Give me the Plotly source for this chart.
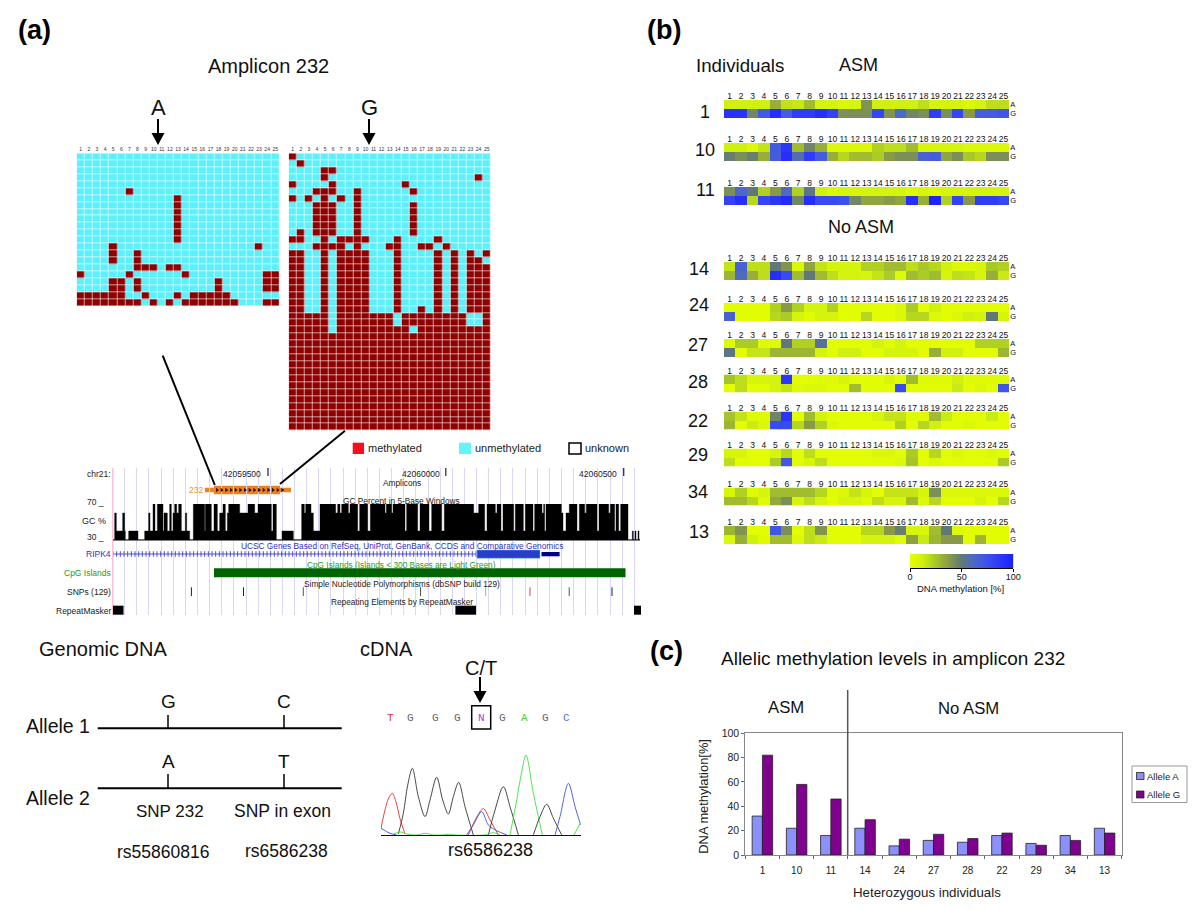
import plotly.graph_objects as go

W, H = 1200, 909
FONT = "Liberation Sans"

# ---------- panel (a): clone methylation grids (methylated CpG numbers per clone row)
cpg_labels = [str(i) for i in range(1, 26)]
clones_a = [[], [], [], [], [], [7], [13], [13], [13], [13], [13], [13], [13], [5, 23], [5, 8], [5, 8],
            [8, 9, 10, 12, 13], [1, 7, 14, 24, 25], [5, 6, 8, 18, 24, 25], [5, 6, 8, 18, 24, 25],
            [1, 2, 3, 4, 5, 6, 9, 13, 15, 16, 17, 18, 19],
            [1, 2, 3, 4, 5, 6, 7, 8, 10, 12, 14, 15, 16, 17, 18, 19, 20, 24, 25]]
_w = [1, 2, 5, 7, 8, 9, 10, 14, 19, 21, 23, 24, 25]
_all = list(range(1, 26))
clones_g = [[1], [2], [5, 6], [5, 24], [1, 6, 15], [4, 5, 6, 9, 16], [1, 3, 5, 7, 9],
            [4, 5, 6, 9, 16], [4, 5, 6, 9, 16], [4, 5, 6, 9, 16], [4, 5, 6, 9, 16],
            [2, 4, 5, 6, 9, 16], [1, 2, 5, 7, 8, 9, 10, 14, 19],
            [4, 5, 6, 7, 9, 13, 14, 17, 18, 20],
            [1, 2, 5, 7, 8, 9, 10, 14, 19, 21, 23, 25], [1, 2, 5, 7, 8, 9, 10, 14, 19, 21, 23, 24],
            _w, _w, _w, _w, _w, _w, _w + [17],
            [c for c in _all if c not in (6, 14, 23, 24)], [c for c in _all if c not in (6, 14, 23, 24)],
            [c for c in _all if c not in (6, 16)]] + [_all] * 14

# ---------- panel (b): allelic methylation per CpG
individuals = ["1", "10", "11", "14", "24", "27", "28", "22", "29", "34", "13"]
ind_1 = [[12,12,12,12,32,17,15,28,10,10,6,8,40,12,12,12,12,18,10,10,10,6,10,18,18],
         [90,90,45,70,92,68,85,85,92,82,42,42,42,80,40,62,45,42,85,42,80,38,68,68,72]]
ind_10 = [[12,12,6,16,70,88,28,45,32,6,6,6,6,22,18,18,28,8,8,8,8,6,6,6,6],
          [48,42,48,32,68,92,58,85,68,32,20,28,28,24,38,42,42,65,68,35,42,25,20,42,42]]
ind_11 = [[42,62,50,22,38,60,22,52,12,6,8,8,10,10,10,10,4,8,4,8,10,10,10,10,10],
          [82,92,20,80,88,95,45,92,78,78,75,45,35,35,38,35,92,32,98,22,82,38,85,85,80]]
ind_14 = [[16,65,18,18,50,40,6,35,16,10,10,10,22,22,28,28,18,25,20,12,6,6,8,25,22],
          [30,60,32,18,92,78,28,50,28,18,10,10,8,16,24,4,28,24,28,8,18,16,8,32,14]]
ind_24 = [[2,2,2,2,22,38,22,10,10,22,2,2,2,2,2,6,24,2,12,2,2,2,2,2,2],
          [65,2,2,2,20,24,10,3,10,10,2,2,20,2,2,6,20,20,6,2,6,12,10,50,8]]
ind_27 = [[4,24,24,4,4,50,22,22,55,2,2,2,2,10,2,10,2,2,2,2,2,2,22,22,22],
          [52,2,16,16,30,30,30,30,10,2,12,12,2,2,10,10,10,2,32,12,12,2,2,2,30]]
ind_28 = [[26,18,8,8,10,88,2,2,4,4,8,2,2,2,8,2,28,4,4,4,12,4,4,4,4],
          [2,18,2,2,10,16,4,6,6,2,2,28,2,2,2,78,2,2,2,2,14,2,6,2,72]]
ind_22 = [[26,16,4,4,45,90,2,28,10,2,2,2,2,8,16,16,4,4,28,14,2,2,2,14,2],
          [30,2,14,6,78,78,20,38,22,6,2,2,2,2,2,22,2,20,12,2,2,6,2,2,2]]
ind_29 = [[8,8,2,2,8,20,2,18,2,2,2,2,2,6,6,2,24,2,20,2,6,2,2,6,2],
          [18,2,2,2,24,70,2,8,18,2,2,2,2,2,2,6,26,2,6,2,2,2,2,2,24]]
ind_34 = [[8,22,4,8,28,28,28,28,20,4,6,16,8,2,16,16,16,8,42,6,6,6,6,6,6],
          [28,28,20,4,34,42,8,18,10,2,8,8,4,18,8,8,28,6,20,2,2,2,10,2,20]]
ind_13 = [[30,40,2,2,72,42,2,18,40,2,2,2,20,20,38,48,8,8,28,50,6,2,2,2,2],
          [6,32,12,4,28,28,6,18,14,2,2,2,10,10,10,2,36,14,30,38,38,2,30,2,2]]
strip_values = [ind_1, ind_10, ind_11, ind_14, ind_24, ind_27, ind_28, ind_22, ind_29, ind_34, ind_13]
strip_tops = [100, 143, 187, 262, 303, 339, 374.5, 411.5, 448.5, 487.5, 526]
label_x = [705, 705, 705, 699, 699, 698, 698, 698, 698, 698, 699]
label_y = [112, 150, 190, 269, 305, 345, 382, 421, 455, 492, 532]
strip_cols = [[0, "#e6ff00"], [0.12, "#d0f010"], [0.25, "#a8c828"], [0.38, "#889a48"], [0.5, "#607878"],
              [0.62, "#4c68c8"], [0.75, "#3c50f0"], [1, "#1c20ff"]]
scale_steps = list(range(0, 101))

# ---------- panel (c)
bar_individuals = ["1", "10", "11", "14", "24", "27", "28", "22", "29", "34", "13"]
allele_a = [32, 22, 16, 22, 7.5, 12, 10.5, 16, 9.5, 16, 22]
allele_g = [82, 58, 46, 29, 13, 17, 13.5, 18, 8, 12, 18]

# ---------- GC percent track: (window position, level)
B, L, M, T = 30, 40, 60, 70
gc_part1 = [(15,B),(20,M),(25,L),(44,M),(50,L),(52,B),(62,L),(90,B),(110,L),(122,M),(126,L),(135,T),(141,L),
            (148,T),(165,L),(168,M),(178,L),(185,T),(190,L),(195,M),(200,T),(206,M),(212,T),(220,L),(232,M),
            (236,L),(245,B),(256,T),(290,L),(292,T),(310,L),(318,T),(328,L),(335,M),(345,T),(352,L),(358,M),
            (362,T),(395,M),(420,T),(440,M),(450,T),(490,L),(495,T),(505,B),(522,L)]
gc_part2 = [(0,L),(25,B),(50,T),(58,M),(62,T),(78,M),(85,L),(105,T),(152,M),(158,T),(165,M),(170,T),(190,M),
            (195,T),(218,L),(224,T),(248,L),(256,T),(300,M),(304,T),(320,M),(324,T),(360,L),(365,T),(398,L),
            (405,T),(432,L),(440,T),(470,L),(478,T)]
gc_part3 = [(0,T),(35,M),(50,T),(68,L),(75,T),(100,M),(105,T),(117,L),(123,T),(155,L),(160,T),(184,L),(190,T),
            (213,L),(218,T),(240,M),(245,T),(248,L),(252,T),(298,M),(303,L),(312,M),(322,T),(345,L),(352,T),
            (368,M),(373,T),(405,L),(411,T),(440,M),(445,T),(458,L),(462,T),(470,L),(476,T),(498,B),(511,L),
            (514,B),(519,L),(522,B),(528,L),(531,B),(534,B)]
gc_pos = [p for p, _ in gc_part1] + [p + 531 for p, _ in gc_part2] + [p + 1062 for p, _ in gc_part3]
gc_level = [v for _, v in gc_part1] + [v for _, v in gc_part2] + [v for _, v in gc_part3]

# ---------- chromatogram traces (scan, signal)
chrom = [
    ("#e03030", [33,45,56,67,78,90,105], [21,76,112,126,100,50,4]),
    ("#333333", [85,100,113,127,145,165,180,200,218,235,250,266,285,310],
                [4,66,150,201,116,56,106,174,106,64,116,159,86,1]),
    ("#e03030", [295,318,340,360,385], [1,51,80,46,1]),
    ("#4050e0", [290,310,335,355,380,410], [1,31,71,31,14,1]),
    ("#333333", [355,375,400,420,445], [1,76,146,86,1]),
    ("#40e040", [420,440,455,468,490,517], [1,106,190,241,126,1]),
    ("#333333", [490,510,530,550,575], [1,56,93,51,1]),
    ("#4050e0", [555,570,595,615,632], [1,56,156,86,31]),
    ("#40e040", [612,632], [1,39]),
    ("#40e040", [70,92,110,140,165,190,215,235,255,345,370,390], [4,10,4,1,6,1,1,3,1,1,8,1]),
    ("#4050e0", [33,60,80], [21,6,1]),
]
seq_letters = ["T", "G", "G", "G", "N", "G", "A", "G", "C"]
seq_colors = ["#e03030", "#666666", "#666666", "#666666", "#a040e0", "#666666", "#40d040", "#666666", "#6070e0"]
seq_x = [390, 410.7, 435.3, 457.7, 481.3, 502.7, 524.3, 545.7, 566]


def dom_x(a, b):
    return [a / W, b / W]


def dom_y(top, bottom):
    return [1 - bottom / H, 1 - top / H]


fig = go.Figure()
layout = dict(
    width=W, height=H, margin=dict(l=0, r=0, t=0, b=0, pad=0, autoexpand=False), autosize=False,
    paper_bgcolor="white", plot_bgcolor="rgba(0,0,0,0)", font=dict(family=FONT, color="#111111"),
    showlegend=False,
    xaxis=dict(domain=[0, 1], range=[0, W], visible=False, fixedrange=True),
    yaxis=dict(domain=[0, 1], range=[H, 0], visible=False, fixedrange=True),
)
shapes, notes = [], []


def text(x, y, s, size=12, anchor="center", color="#111111", bold=False, family=FONT, angle=0):
    shift = {"left": -2, "right": 2, "center": 0}[anchor]
    notes.append(dict(x=x + shift, y=y, xref="x", yref="y", text=f"<b>{s}</b>" if bold else s, showarrow=False,
                      xanchor=anchor, yanchor="middle", textangle=angle,
                      font=dict(size=size, color=color, family=family)))


def rect(x0, y0, x1, y1, fill, edge=None, w=0, layer="above"):
    shapes.append(dict(type="rect", xref="x", yref="y", x0=x0, y0=y0, x1=x1, y1=y1, fillcolor=fill,
                       line=dict(color=edge or fill, width=w), layer=layer))


def seg(x0, y0, x1, y1, color="black", w=1.5):
    shapes.append(dict(type="line", xref="x", yref="y", x0=x0, y0=y0, x1=x1, y1=y1,
                       line=dict(color=color, width=w), layer="above"))


def arrow(x, y0, y1):
    seg(x, y0, x, y1 - 10, w=2)
    shapes.append(dict(type="path", xref="x", yref="y", layer="above", fillcolor="black", line=dict(width=0),
                       path=f"M {x-6.5} {y1-12} L {x+6.5} {y1-12} L {x} {y1} Z"))


# page-level trace so the page axes exist
fig.add_trace(go.Scatter(x=[0], y=[0], mode="markers", marker=dict(size=1, opacity=0), showlegend=False,
                         hoverinfo="skip"))

axis_n = 2


def new_axes(xd, yd, xopts, yopts):
    global axis_n
    n = axis_n
    axis_n += 1
    layout[f"xaxis{n}"] = dict(domain=xd, anchor=f"y{n}", fixedrange=True, **xopts)
    layout[f"yaxis{n}"] = dict(domain=yd, anchor=f"x{n}", fixedrange=True, **yopts)
    return f"x{n}", f"y{n}"


# ---------- methylation grids
def grid(clones, left, right, top, bottom):
    z = [[1 if c + 1 in row else 0 for c in range(25)] for row in clones]
    xa, ya = new_axes(
        dom_x(left, right), dom_y(top, bottom),
        dict(side="top", tickmode="array", tickvals=list(range(25)), ticktext=cpg_labels, range=[-0.5, 24.5],
             tickangle=0, ticks="", showgrid=False, zeroline=False, tickfont=dict(size=5, color="#333")),
        dict(visible=False, range=[len(clones) - 0.5, -0.5]))
    fig.add_trace(go.Heatmap(z=z, xaxis=xa, yaxis=ya, zmin=0, zmax=1, xgap=0.6, ygap=0.6, showscale=False,
                             colorscale=[[0, "#5cf0fc"], [0.5, "#5cf0fc"], [0.5, "#8f0000"], [1, "#8f0000"]],
                             hoverinfo="skip"))


grid(clones_a, 76.7, 279.3, 153.3, 306)
grid(clones_g, 288.7, 490.7, 153.3, 430.7)

# ---------- strips of panel (b)
for vals, top in zip(strip_values, strip_tops):
    xa, ya = new_axes(
        dom_x(724, 1009.3), dom_y(top, top + 18),
        dict(side="top", tickmode="array", tickvals=list(range(25)), ticktext=cpg_labels, range=[-0.5, 24.5],
             tickangle=0, ticks="", showgrid=False, zeroline=False, ticklabelstandoff=-2,
             tickfont=dict(size=8.5, color="#111")),
        dict(side="right", tickmode="array", tickvals=[0, 1], ticktext=["A", "G"], range=[1.5, -0.5],
             ticks="", showgrid=False, zeroline=False, tickfont=dict(size=7.5, color="#111")))
    fig.add_trace(go.Heatmap(z=vals, xaxis=xa, yaxis=ya, coloraxis="coloraxis", hoverinfo="skip"))
layout["coloraxis"] = dict(cmin=0, cmax=100, colorscale=strip_cols, showscale=False)

# colour key of panel (b), drawn through the same colour axis
xa_k, ya_k = new_axes(
    dom_x(910, 1013.3), dom_y(554, 568.3),
    dict(range=[0, 100], tickvals=[0, 50, 100], ticks="outside", ticklen=3, tickcolor="black", showline=True,
         linecolor="black", linewidth=1, showgrid=False, zeroline=False, tickfont=dict(size=9, color="#111"),
         ticklabelstandoff=-3),
    dict(visible=False, range=[0, 1]))
fig.add_trace(go.Heatmap(x=scale_steps, y=[0, 1], z=[scale_steps, scale_steps], xaxis=xa_k, yaxis=ya_k,
                         coloraxis="coloraxis", hoverinfo="skip"))
text(960, 588.5, "DNA methylation [%]", 9.5)

for name, x, y in zip(individuals, label_x, label_y):
    text(x, y, name, size=18)

# ---------- browser tracks
xa_t, ya_t = new_axes(
    dom_x(113, 640), dom_y(468, 615),
    dict(range=[15, 1596], showgrid=True, gridcolor="#d8d8f4", gridwidth=1, tick0=50, dtick=36.4, showticklabels=False,
         ticks="", zeroline=False, showline=False),
    dict(range=[615, 468], visible=False))
n_gc = axis_n
axis_n += 1
layout[f"yaxis{n_gc}"] = dict(domain=dom_y(504, 540), range=[30, 70], visible=False, anchor=xa_t, fixedrange=True)
fig.add_trace(go.Scatter(x=gc_pos, y=gc_level, xaxis=xa_t, yaxis=f"y{n_gc}", mode="lines", fill="tozeroy",
                         fillcolor="black", line=dict(color="black", width=0.4, shape="hv"), showlegend=False,
                         hoverinfo="skip"))
gene_ticks = list(range(15, 1107, 11))
fig.add_trace(go.Scatter(x=gene_ticks, y=[554] * len(gene_ticks), xaxis=xa_t, yaxis=ya_t, mode="lines+markers",
                         line=dict(color="#5050d0", width=1),
                         marker=dict(symbol="line-ns", size=4, line=dict(color="#5050d0", width=1)),
                         showlegend=False, hoverinfo="skip"))

rect(112, 468, 113.5, 615, "#ffc0d8")
rect(205, 487.7, 291, 492.3, "#f08020", layer="below")
rect(214, 485.7, 280, 494.3, "#f08020", layer="below")
amplicon_marks = list(range(327, 525, 14))
fig.add_trace(go.Scatter(x=amplicon_marks, y=[490] * len(amplicon_marks), xaxis=xa_t, yaxis=ya_t, mode="markers",
                         marker=dict(symbol="triangle-right", size=4, color="#301800", line=dict(width=0)),
                         showlegend=False, hoverinfo="skip"))
rect(477, 550, 540, 558.3, "#2a3cc8", "#60d0f0", 0.5)
rect(541.5, 552, 559.6, 556.3, "#000090")
rect(214, 568.3, 625.5, 577.3, "#006400")
seg(113, 540, 640, 540, "black", 1)
for x, c in zip([191.4, 243.5, 303.3, 420.5, 485.6, 530, 569.2, 612],
                ["#222", "#222", "#555", "#555", "#70e040", "#e04040", "#555", "#222"]):
    seg(x, 587.3, x, 596, c, 1)
rect(113, 605.7, 123.5, 614.7, "black")
rect(455.4, 605.7, 476, 614.7, "black")
rect(634, 605.7, 641, 614.7, "black")
for x in (268, 445.8, 623.7):
    seg(x, 468, x, 476, "#333", 1.3)

bt = "#222222"
text(111, 473.5, "chr21:", 8.5, "right", bt)
text(242, 473.5, "42059500", 8.5, color=bt)
text(421, 473.5, "42060000", 8.5, color=bt)
text(598, 473.5, "42060500", 8.5, color=bt)
text(401.7, 482.5, "Amplicons", 8.3, color=bt)
text(202.5, 490, "232", 8.5, "right", "#f09030")
text(104, 501.7, "70 _", 8.5, "right", bt)
text(106, 521, "GC %", 9, "right", bt)
text(104, 536.7, "30 _", 8.5, "right", bt)
text(401.7, 501.3, "GC Percent in 5-Base Windows", 8.3, color=bt)
text(401.7, 546, "UCSC Genes Based on RefSeq, UniProt, GenBank, CCDS and Comparative Genomics", 8.3, color="#3030c0")
text(111, 554, "RIPK4", 8.5, "right", "#3030c0")
text(401.7, 564.7, "CpG Islands (Islands &lt; 300 Bases are Light Green)", 8.3, color="#20a020")
text(111, 573.3, "CpG Islands", 8.5, "right", "#20a020")
text(401.7, 584, "Simple Nucleotide Polymorphisms (dbSNP build 129)", 8.3, color=bt)
text(111, 592, "SNPs (129)", 8.5, "right", bt)
text(401.7, 602.3, "Repeating Elements by RepeatMasker", 8.3, color=bt)
text(111, 611, "RepeatMasker", 8.5, "right", bt)

# legend squares of panel (a)
rect(352.7, 442.7, 364, 454, "#f01020")
text(368, 448, "methylated", 11, "left", "#222")
rect(459, 442.7, 471, 454, "#60f4fc")
text(475, 448, "unmethylated", 11, "left", "#222")
rect(569, 443, 581, 454, "white", "black", 1.5)
text(585, 448, "unknown", 11, "left", "#222")

# connector lines
seg(162.7, 355.7, 214.8, 485, w=2)
seg(345, 430.7, 280, 484, w=2)

# panel letters and headings
text(18, 30, "(a)", 27, "left", "black", True)
text(647, 30, "(b)", 27, "left", "black", True)
text(650, 651, "(c)", 27, "left", "black", True)
text(268, 66, "Amplicon 232", 20)
text(158, 107, "A", 22)
text(369, 107, "G", 22)
arrow(158, 119, 145)
arrow(369, 119, 145)
text(696, 65, "Individuals", 18.7, "left")
text(858, 65, "ASM", 18)
text(861, 227, "No ASM", 18)

# allele diagram
text(39, 649, "Genomic DNA", 20, "left")
text(360, 649, "cDNA", 20, "left")
text(26, 725.7, "Allele 1", 19.5, "left")
text(26, 798, "Allele 2", 19.5, "left")
seg(97.7, 728.3, 341.7, 728.3, w=2)
seg(97.7, 788.3, 341.7, 788.3, w=2)
for x, top, bottom in ((168, "G", "A"), (284, "C", "T")):
    seg(x, 715, x, 728.3, w=1.5)
    seg(x, 774, x, 788.3, w=1.5)
    text(x, 701, top, 19)
    text(x, 761.7, bottom, 19)
text(170, 811.5, "SNP 232", 17)
text(282, 811, "SNP in exon", 17.5)
text(163, 851.7, "rs55860816", 17.5)
text(286, 850.7, "rs6586238", 17.5)

# chromatogram
text(481, 668, "C/T", 20)
arrow(480, 677, 703)
rect(471.7, 705.7, 490.7, 729, "rgba(0,0,0,0)", "black", 1.5)
for s, c, x in zip(seq_letters, seq_colors, seq_x):
    text(x, 718, s, 11, color=c, family="Liberation Mono")
xa_c, ya_c = new_axes(dom_x(381, 580.7), dom_y(755, 835.3),
                      dict(range=[33, 632], showticklabels=False, ticks="", showgrid=False, zeroline=False,
                           showline=True, linecolor="#111", linewidth=1),
                      dict(range=[0, 241], visible=False))
for color, xs, ys in chrom:
    fig.add_trace(go.Scatter(x=xs, y=ys, xaxis=xa_c, yaxis=ya_c, mode="lines",
                             line=dict(color=color, width=0.9, shape="spline", smoothing=0.9),
                             showlegend=False, hoverinfo="skip"))
text(490.7, 850, "rs6586238", 18)

# ---------- panel (c) bars
xa_b, ya_b = new_axes(
    dom_x(745.3, 1121.7), dom_y(733.3, 855),
    dict(type="category", tickson="boundaries", ticks="outside",
         ticklen=3, tickcolor="#666", showgrid=False, showline=True, mirror=True, linecolor="#888", linewidth=1,
         ticklabelstandoff=6, tickfont=dict(size=10, color="#222")),
    dict(range=[0, 100], dtick=20, ticks="outside", ticklen=3, tickcolor="#666", showgrid=False, showline=True,
         mirror=True, linecolor="#888", linewidth=1, zeroline=False, tickfont=dict(size=10.5, color="#222")))
fig.add_trace(go.Bar(x=bar_individuals, y=allele_a, name="Allele A", xaxis=xa_b, yaxis=ya_b, showlegend=False,
                     marker=dict(color="#8c90fa", line=dict(color="#222", width=0.8))))
fig.add_trace(go.Bar(x=bar_individuals, y=allele_g, name="Allele G", xaxis=xa_b, yaxis=ya_b, showlegend=False,
                     marker=dict(color="#800090", line=dict(color="#222", width=0.8))))
layout.update(barmode="group", bargap=0.4, bargroupgap=0)
rect(1132, 766, 1187, 802.5, "white", "#999", 1)
rect(1136.5, 772.5, 1144, 779.5, "#8c90fa", "#222", 0.8)
rect(1136.5, 791, 1144, 798, "#800090", "#222", 0.8)
text(1147, 776, "Allele A", 9.5, "left", "#222")
text(1147, 794.5, "Allele G", 9.5, "left", "#222")
text(704, 796.7, "DNA methylation[%]", 12.9, color="#222", angle=-90)
text(927, 892, "Heterozygous individuals", 13.3, color="#222")
text(893, 658, "Allelic methylation levels in amplicon 232", 19)
text(786, 707, "ASM", 16.7)
text(968, 708, "No ASM", 16.7)
seg(847.7, 690, 847.7, 855, "#555", 1.5)

layout["shapes"] = shapes
layout["annotations"] = notes
fig.update_layout(**layout)
fig.write_html("out.html", config=dict(displayModeBar=False),
               post_script="document.body.style.margin='0';")
